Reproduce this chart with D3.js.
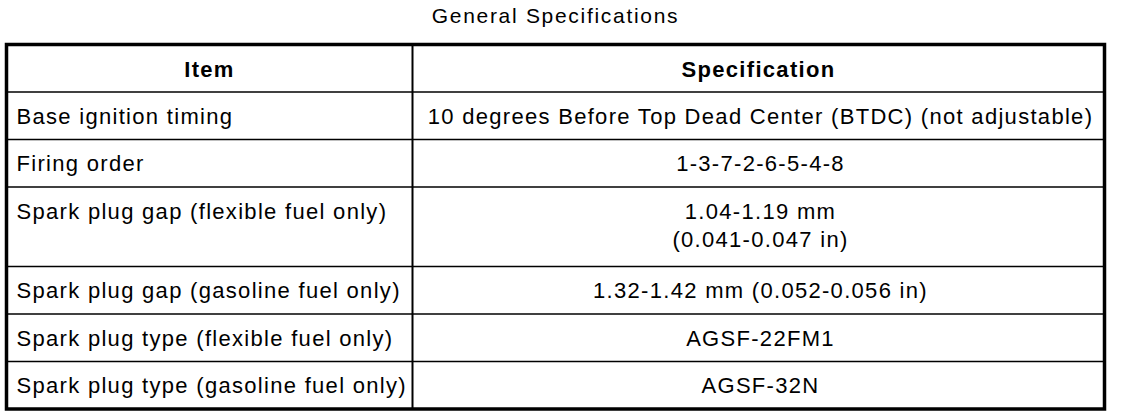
<!DOCTYPE html>
<html>
<head>
<meta charset="utf-8">
<script src="https://cdn.jsdelivr.net/npm/d3@7"></script>
<style>
  html, body { margin: 0; padding: 0; background: #fff; }
  svg { display: block; }
  text { font-family: "Liberation Sans", Arial, Helvetica, sans-serif; fill: #000; }
</style>
</head>
<body>
<svg id="d_svg" width="1136" height="418"></svg>
<script>
// table content
var title = "General Specifications";
var headers = ["Item", "Specification"];
var items = [
	"Base ignition timing",
	"Firing order",
	"Spark plug gap (flexible fuel only)",
	"Spark plug gap (gasoline fuel only)",
	"Spark plug type (flexible fuel only)",
	"Spark plug type (gasoline fuel only)"
];
var specs = [
	["10 degrees Before Top Dead Center (BTDC) (not adjustable)"],
	["1-3-7-2-6-5-4-8"],
	["1.04-1.19 mm", "(0.041-0.047 in)"],
	["1.32-1.42 mm (0.052-0.056 in)"],
	["AGSF-22FM1"],
	["AGSF-32N"]
];

var tLeft = 6.5, tRight = 1104.5, tTop = 44.5, colSplit = 412.5;
var rowH = 47.5, lineExtra = 32, lineGap = 28;
var fs = 22, ls = '1.3px';

var svg = d3.select('#d_svg');

// row boundaries: header row then one row per item
var rows = [{lines: 1, head: true}].concat(specs.map(function(s, i){
	return {lines: s.length, item: items[i], spec: s};
}));
var edges = [tTop];
rows.forEach(function(r){
	edges.push(edges[edges.length - 1] + rowH + (r.lines - 1) * lineExtra);
});
var tBottom = edges[edges.length - 1];

var x = d3.scaleLinear().domain([0, 1, 2]).range([tLeft, colSplit, tRight]);

svg.append('text')
	.attr('x', (tLeft + tRight) / 2)
	.attr('y', 22.5)
	.attr('text-anchor', 'middle')
	.attr('font-size', '21px')
	.attr('letter-spacing', '1.7px')
	.text(title);

// inner horizontal rules
svg.append('g').selectAll('line')
	.data(edges.slice(1, -1))
	.enter()
	.append('line')
	.attr('x1', tLeft).attr('x2', tRight)
	.attr('y1', function(d){ return d; })
	.attr('y2', function(d){ return d; })
	.attr('stroke', '#000')
	.attr('stroke-width', 1.5);

svg.append('line')
	.attr('x1', x(1)).attr('x2', x(1))
	.attr('y1', tTop).attr('y2', tBottom)
	.attr('stroke', '#000')
	.attr('stroke-width', 2);

svg.append('rect')
	.attr('x', tLeft).attr('y', tTop)
	.attr('width', tRight - tLeft).attr('height', tBottom - tTop)
	.attr('fill', 'none')
	.attr('stroke', '#000')
	.attr('stroke-width', 3.5);

// header
svg.append('g').selectAll('text')
	.data(headers)
	.enter()
	.append('text')
	.attr('x', function(d, i){ return (x(i) + x(i + 1)) / 2; })
	.attr('y', (edges[0] + edges[1]) / 2 + 9)
	.attr('text-anchor', 'middle')
	.attr('font-size', fs + 'px')
	.attr('font-weight', 'bold')
	.attr('letter-spacing', ls)
	.text(function(d){ return d; });

var body = svg.append('g').selectAll('g')
	.data(rows.slice(1))
	.enter()
	.append('g');

body.append('text')
	.attr('x', x(0) + 10)
	.attr('y', function(d, i){ return edges[i + 1] + rowH / 2 + 8; })
	.attr('font-size', fs + 'px')
	.attr('letter-spacing', ls)
	.text(function(d){ return d.item; });

body.each(function(d, i){
	d3.select(this).selectAll('text.spec')
		.data(d.spec)
		.enter()
		.append('text')
		.attr('class', 'spec')
		.attr('x', (x(1) + x(2)) / 2 + 2)
		.attr('y', function(s, j){ return edges[i + 1] + rowH / 2 + 8 + j * lineGap; })
		.attr('text-anchor', 'middle')
		.attr('font-size', fs + 'px')
		.attr('letter-spacing', ls)
		.text(function(s){ return s; });
});
</script>
</body>
</html>
